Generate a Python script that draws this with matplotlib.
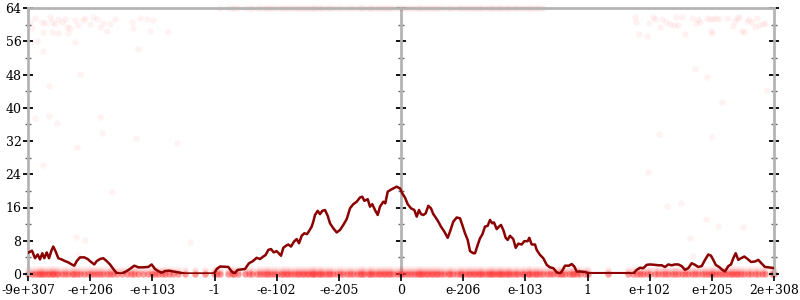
import matplotlib
matplotlib.use("Agg")
import matplotlib.pyplot as plt
from matplotlib.ticker import MultipleLocator
import numpy as np

# ---- data ----
x_labels = ['-9e+307', '-e+206', '-e+103', '-1', '-e-102', '-e-205', '0',
            'e-206', 'e-103', '1', 'e+102', 'e+205', '2e+308']

line_x = [0, 4, 7, 9.7, 12, 14.3, 16.3, 18.7, 21, 23.7, 25.3, 27.7, 30.3, 33.7, 37, 40.3,
          43.7, 46.3, 48.7, 52, 56.3, 59.7, 63, 66.3, 68.7, 72, 75.3, 78.7, 82, 85.3, 88.7,
          93.7, 98.7, 103, 106.3, 110.3, 115, 120.3, 123.7, 127, 130.3, 133.7, 137, 141,
          145.3, 150, 157, 167, 177, 186, 188.7, 192, 200.3, 203.7, 206.3, 209.7, 217, 221,
          224.3, 228.7, 232, 235.3, 237.7, 240.3, 243, 245.7, 248.7, 253, 255.3, 258, 260.3,
          263, 266, 268.7, 271, 273.7, 276.3, 279, 281, 283.7, 285.3, 287, 289.7, 292, 294.3,
          297, 299.7, 302, 305.3, 308.7, 312, 315.3, 318.7, 322, 325.3, 328.7, 332, 334.3,
          336.3, 339.7, 342, 344.3, 347, 349.7, 352, 355.3, 357.3, 359.7, 362.3, 365.3,
          368.7, 372, 374.3, 377, 379.7, 383, 386.3, 388.7, 391, 393, 395.3, 397.7, 400.3,
          403, 405.3, 407.7, 410.3, 413, 416.3, 419.7, 422, 425.3, 428.7, 432, 434.3, 437,
          439.7, 442, 445.3, 447, 449.7, 452, 454.3, 457, 459.7, 462, 464.3, 466, 468.7, 471,
          473, 475.3, 477.7, 479.7, 482, 485.3, 487.7, 490.3, 493.7, 496.3, 499.7, 501.3,
          503.7, 507, 508.7, 512, 515.3, 518.7, 522, 525.3, 528.7, 532, 534.3, 537, 541,
          543.7, 546.3, 548.7, 552, 557, 560.3, 580, 600.3, 605.3, 608.7, 612, 615.3, 618.7,
          622, 627, 630.3, 633.7, 637, 640.3, 643.7, 647, 650.3, 653.7, 657, 660.3, 663.7,
          667, 670.3, 673.7, 677, 680.3, 683, 685.3, 687.7, 691, 694.3, 697, 700.3, 703,
          705.3, 707.7, 710.3, 713, 716.3, 719.7, 723, 727, 730.3, 733.7, 737, 743.7, 746]
line_y = [5.1, 5.6, 3.8, 4.7, 3.5, 5.0, 3.8, 5.2, 3.8, 5.8, 6.6, 5.4, 3.8, 3.5, 3.1, 2.8,
          2.3, 2.0, 3.1, 4.0, 4.0, 3.6, 2.9, 2.3, 3.1, 3.6, 3.8, 3.1, 2.3, 1.2, 0.2,
          0.1, 0.7, 1.4, 2.0, 1.6, 1.6, 1.7, 2.3, 1.2, 0.7, 0.3, 0.7, 0.8,
          0.6, 0.4, 0.1, 0.1, 0.1, 0.1, 1.2, 1.8, 1.7, 0.6, 0.1, 1.0, 1.2, 2.6,
          3.0, 3.9, 3.6, 4.2, 4.6, 5.8, 6.0, 5.2, 5.5, 4.4, 6.3, 6.8, 7.1,
          6.6, 7.8, 8.4, 7.4, 9.2, 9.8, 9.6, 10.3, 11.4, 12.6, 14.2, 15.2, 14.4, 15.2,
          15.4, 14.0, 12.2, 11.0, 10.0, 10.6, 11.8, 13.2, 15.8, 16.8, 17.4, 18.4, 18.6,
          17.6, 18.0, 16.2, 16.8, 15.4, 14.2, 16.2, 17.4, 17.0, 19.8, 20.2, 20.6,
          21.0, 20.6, 19.4, 18.4, 16.8, 15.8, 15.4, 13.8, 15.4, 14.4, 14.2, 14.6, 16.4,
          15.8, 14.4, 13.6, 12.6, 11.4, 10.2, 8.7, 10.2, 12.6, 13.6, 13.4, 11.8, 9.8,
          8.2, 5.5, 5.0, 5.0, 7.0, 8.6, 9.5, 11.4, 11.6, 13.0, 12.2, 12.4, 10.8, 11.4,
          11.8, 10.6, 8.7, 8.2, 9.2, 8.4, 6.3, 7.3, 7.1, 7.9, 7.9, 8.7,
          7.1, 7.1, 5.8, 4.6, 3.8, 2.2, 1.6, 1.4, 0.4, 0.1, 0.8, 2.0, 2.0,
          2.4, 1.8, 0.6, 0.6, 0.5, 0.2, 0.2, 0.2, 0.1, 1.0, 1.5, 1.4, 2.2,
          2.3, 2.2, 2.1, 2.1, 1.7, 2.3, 2.1, 2.3, 2.3, 1.9, 1.0, 1.4, 2.6,
          2.2, 1.7, 1.9, 3.4, 4.7, 4.4, 3.4, 2.2, 1.7, 1.0, 0.6, 1.9, 2.3,
          3.8, 5.0, 3.4, 3.8, 4.2, 3.6, 2.9, 3.0, 3.4, 2.5, 1.7, 1.5, 1.4]

# scattered raw samples (faint dots)
scatter_x = [7, 2, 3.7, 13.7, 17, 22, 23.7, 27, 30.3, 33.7, 37, 38.7, 40.3, 42, 47, 50.3,
             55.3, 57, 62, 65.3, 68.7, 72, 75.3, 78.7, 82, 87, 103.7, 105.3, 112, 118.7,
             125.3, 122, 140.3, 15.3, 23.7, 30.3, 9.3, 47, 14.7, 110.3, 52, 21.3, 7, 21.3,
             29.3, 72, 73.7, 108, 149.3, 48.7, 15.3, 83.7, 48, 57, 162, 50.3,
             607, 608, 621.3, 624.7, 627, 632, 633.7, 638, 642, 646, 648, 650.3, 653.7,
             663.7, 668, 670.3, 672, 679.3, 682, 685.3, 688, 691.3, 698.7, 704.7, 707,
             708.7, 711.3, 713.7, 716, 718.7, 721.3, 723.7, 727, 729.3, 731.3, 734.7, 737,
             682.7, 683.7, 611.3, 618.7, 657, 667, 678.7, 693.7, 738.7, 631.3, 683.7,
             620.3, 638.7, 652.7, 678, 690.3, 714.7, 662, 664.7]
scatter_y = [61.5, 60.7, 59.1, 60.7, 60.5, 61.8, 60.7, 60.2, 61.3, 60.7, 61.3, 59.5, 57.9,
             59.1, 61.1, 59.9, 61.0, 61.5, 60.2, 61.8, 61.3, 59.5, 60.5, 58.5, 60.2, 61.3,
             60.7, 59.1, 61.5, 61.3, 61.0, 58.5, 58.3, 58.3, 58.3, 58.1, 56.1, 55.9, 53.7,
             54.1, 48.1, 45.2, 37.5, 38.0, 36.4, 37.8, 33.9, 32.7, 31.6, 30.6, 26.2, 19.8,
             8.8, 8.3, 7.8, 4.6,
             61.8, 60.7, 60.3, 61.9, 61.3, 59.4, 61.3, 60.7, 60.2, 59.9, 61.8, 59.9, 61.8,
             61.5, 60.5, 61.3, 60.7, 61.5, 61.3, 61.3, 61.5, 61.3, 61.5, 59.7, 60.9, 61.5,
             61.8, 58.5, 58.3, 60.9, 61.3, 60.7, 59.5, 61.5, 59.9, 60.2, 60.3, 58.5, 57.9,
             57.7, 57.3, 57.7, 49.3, 47.5, 41.5, 44.3, 33.7, 33.0, 24.6, 16.4, 17.2, 13.2,
             11.5, 11.4, 8.6, 4.3]

band_levels = [0, 0.4, 0.8, 1.2]      # near-zero sample band
band_alphas = [0.45, 0.08, 0.08, 0.06]
top_level = 64
top_range = (192, 517)           # x span of samples pinned at the top

# ---- figure ----
fig = plt.figure(figsize=(8, 3), dpi=100)
pos = [28 / 800, 26 / 300, 746 / 800, 266 / 300]
xmax = 746
spine_gray = '#b4b4b4'

# central axis (drawn behind the main axes)
axc = fig.add_axes(pos)
axc.set_zorder(1)
axc.set_xlim(0, xmax)
axc.set_ylim(0, 64)
axc.set_xticks([])
axc.spines['left'].set_position(('data', xmax / 2))
axc.spines['left'].set_color(spine_gray)
axc.spines['left'].set_linewidth(2)
for side in ['right', 'top', 'bottom']:
    axc.spines[side].set_visible(False)
axc.yaxis.set_major_locator(MultipleLocator(8))
axc.yaxis.set_minor_locator(MultipleLocator(4))
axc.tick_params(axis='y', which='major', direction='inout', length=7.5, width=1.3,
                color='black', labelleft=False)
axc.tick_params(axis='y', which='minor', direction='inout', length=4.5, width=1,
                color='#666666')

ax = fig.add_axes(pos)
ax.set_zorder(2)
ax.patch.set_visible(False)
ax.set_xlim(0, xmax)
ax.set_ylim(0, 64)

dot_color = '#ff3030'
# faint scattered dots
ax.scatter(scatter_x, scatter_y, s=22, color=dot_color, alpha=0.06, linewidths=0, zorder=1)
# bottom band
for lev, al in zip(band_levels, band_alphas):
    ax.scatter(line_x, [lev] * len(line_x), s=22, color=dot_color, alpha=al,
               linewidths=0, zorder=1, clip_on=False)
# top band
tx = [v for v in line_x if top_range[0] <= v <= top_range[1]]
ax.scatter(tx, [top_level] * len(tx), s=22, color=dot_color, alpha=0.07,
           linewidths=0, zorder=1, clip_on=False)

# main line
ax.plot(line_x, line_y, color='#8b0000', lw=1.8, zorder=3, solid_joinstyle='round')

# spines
for side in ['left', 'right', 'top']:
    ax.spines[side].set_color(spine_gray)
    ax.spines[side].set_linewidth(2)
ax.spines['bottom'].set_visible(False)

# y ticks
ax.yaxis.set_major_locator(MultipleLocator(8))
ax.yaxis.set_minor_locator(MultipleLocator(4))
ax.tick_params(axis='y', which='major', direction='inout', length=7.5, width=1.3,
               color='black', left=True, right=True, labelleft=True, labelright=False,
               labelsize=9, pad=1)
ax.tick_params(axis='y', which='minor', direction='inout', length=4.5, width=1,
               color='#666666', left=True, right=True)

# x ticks
ticks = np.linspace(0, xmax, len(x_labels))
ax.set_xticks(ticks)
ax.set_xticklabels(x_labels)
ax.tick_params(axis='x', which='major', direction='out', length=5, width=1.2,
               color='black', labelsize=9, pad=2)
for lab in ax.get_xticklabels() + ax.get_yticklabels():
    lab.set_family('DejaVu Serif')

fig.savefig('out.png', dpi=100)
